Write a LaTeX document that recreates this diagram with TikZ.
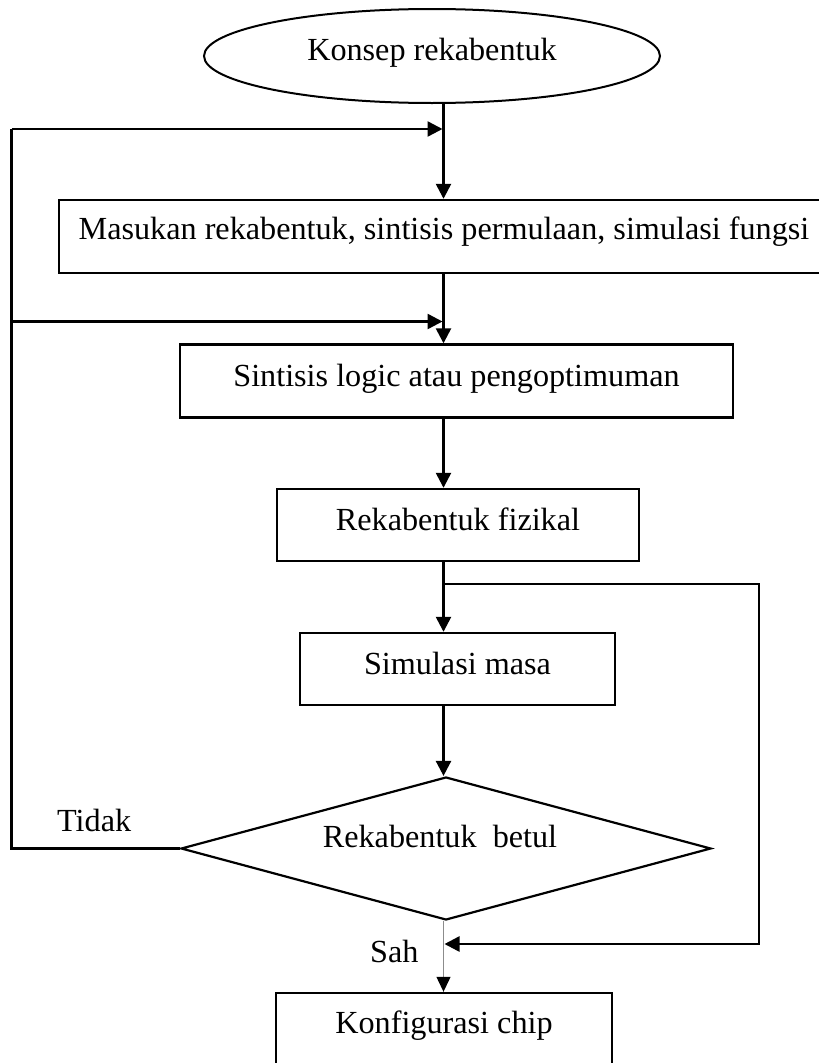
\documentclass[tikz,border=0pt]{standalone}
\usepackage{fontspec}
\setmainfont{Liberation Serif}
\usetikzlibrary{shapes.geometric,arrows.meta}

\tikzset{
  every node/.style={font=\fontsize{32.2}{39}\selectfont},
  stepbox/.style={draw, rectangle, line width=2.4pt, inner sep=0pt, text height=22pt},
  decision/.style={draw, diamond, line width=2.2pt, inner sep=0pt},
  startnode/.style={draw, ellipse, line width=2pt, inner sep=0pt, text height=22pt},
  flow/.style={line width=2.5pt},
  arr/.style={flow, -{Triangle[length=15pt,width=15pt]}},
  passline/.style={line width=1.2pt, draw=black!45, -{Triangle[length=15pt,width=14pt,color=black]}},
  lbl/.style={inner sep=0pt}
}

\begin{document}
\begin{tikzpicture}[x=1pt,y=-1pt]
  \useasboundingbox (0,0) rectangle (819,1063);
  \clip (0,0) rectangle (819,1063);

  % main axis of the flow
  \coordinate (ax) at (443.5,0);

  % process steps
  \node[startnode, minimum width=456pt, minimum height=94pt, text depth=14pt]
    (ell) at (432,56) {Konsep rekabentuk};
  \node[stepbox, minimum width=770pt, minimum height=73pt, text depth=17pt]
    (b1) at (444,236.5) {Masukan rekabentuk, sintisis permulaan, simulasi fungsi};
  \node[stepbox, minimum width=553pt, minimum height=73pt, text depth=11pt]
    (b2) at (456.5,381) {Sintisis logic atau pengoptimuman};
  \node[stepbox, minimum width=362pt, minimum height=72pt, text depth=12pt]
    (b3) at (458,525) {Rekabentuk fizikal};
  \node[stepbox, minimum width=315pt, minimum height=72pt, text depth=12pt]
    (b4) at (457.5,669) {Simulasi masa};
  \node[decision, minimum width=530pt, minimum height=143pt]
    (dec) at (446,848.5) {};
  \node[lbl, anchor=base] (dectext) at (440,847) {Rekabentuk\ \ betul};
  \node[stepbox, minimum width=336pt, minimum height=77pt, text depth=19pt]
    (b5) at (444,1031.5) {Konfigurasi chip};

  % branch labels
  \node[lbl, anchor=base west] (tidak) at (57,831) {Tidak};
  \node[lbl, anchor=base west] (sah) at (370,962) {Sah};

  % junction points of the feedback loops
  \coordinate (L1) at (11.5,129);
  \coordinate (J1) at (442.5,129);
  \coordinate (L2) at (11.5,321.5);
  \coordinate (J2) at (442.5,321.5);
  \coordinate (J3) at (443.5,584);
  \coordinate (R2) at (759,944);
  \coordinate (J4) at (444.5,944);

  % main flow
  \draw[arr] (ell.south -| ax) -- (b1.north -| ax);
  \draw[arr] (b1.south -| ax) -- (b2.north -| ax);
  \draw[arr] (b2.south -| ax) -- (b3.north -| ax);
  \draw[arr] (b3.south -| ax) -- (b4.north -| ax);
  \draw[arr] (b4.south -| ax) -- (dec.north -| ax);
  \draw[passline] (dec.south -| ax) -- (b5.north -| ax);

  % "Tidak" loop back to the top
  \draw[flow] (dec.west) -| (L1);
  \draw[arr] (L1) -- (J1);
  \draw[arr] (L2) -- (J2);

  % bypass from physical design to chip configuration
  \draw[arr] (J3) -| (R2) -- (J4);
\end{tikzpicture}
\end{document}
